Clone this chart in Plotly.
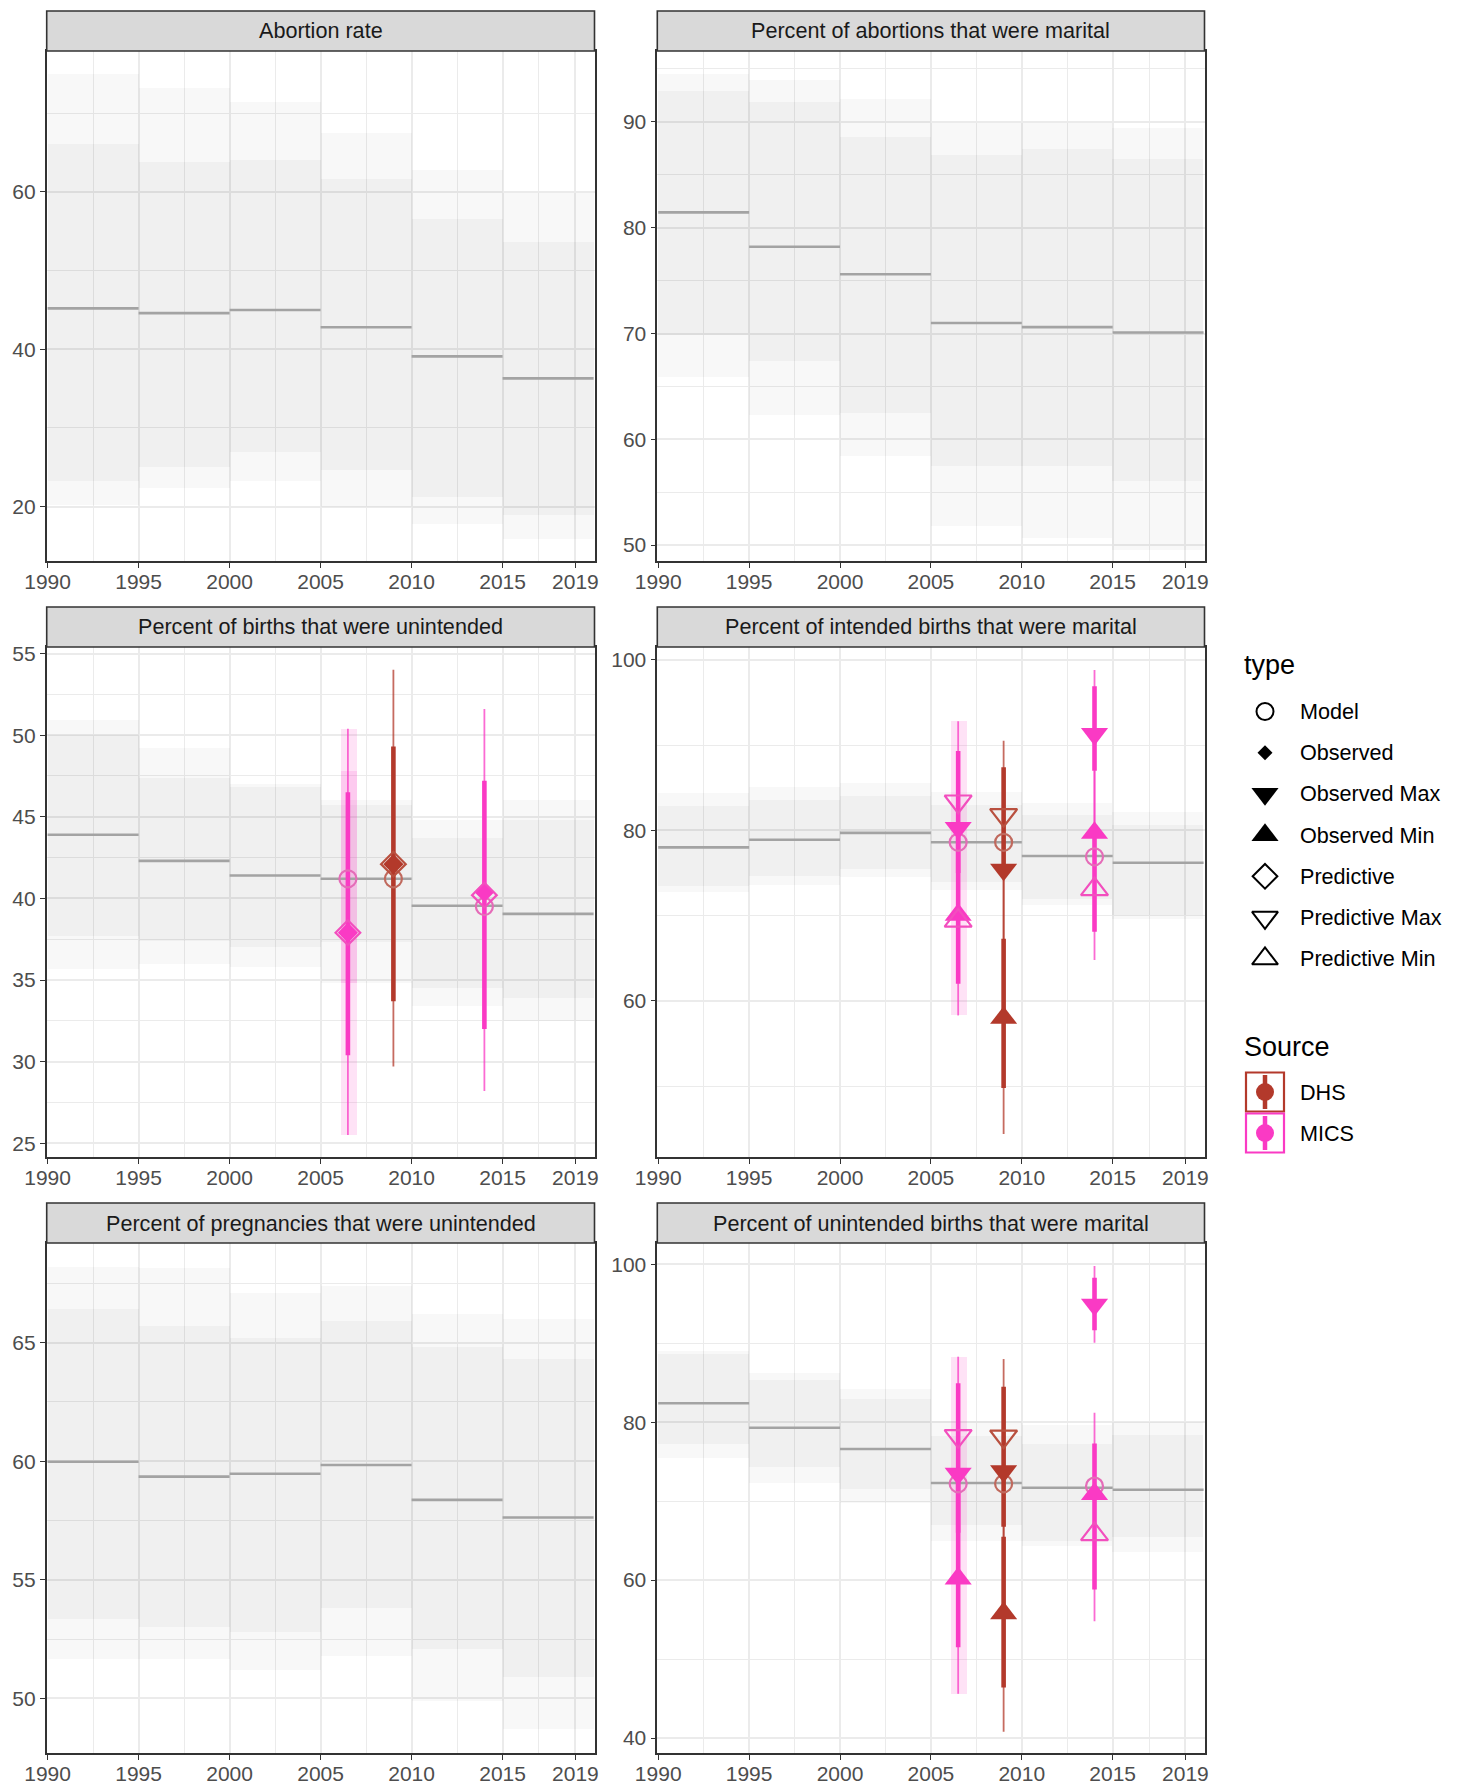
import plotly.graph_objects as go

W, H = 1457, 1789          # window size
OFF = 8                    # page body margin
FW, FH = W - 2 * OFF, H - OFF

# ---------------- data ----------------
period_start = [1990, 1995, 2000, 2005, 2010, 2015]
period_end = [1995, 2000, 2005, 2010, 2015, 2020]

panel_titles = [
    "Abortion rate",
    "Percent of abortions that were marital",
    "Percent of births that were unintended",
    "Percent of intended births that were marital",
    "Percent of pregnancies that were unintended",
    "Percent of unintended births that were marital",
]

x_tick_vals = [1990, 1995, 2000, 2005, 2010, 2015, 2019]
x_minor_vals = [1992.5, 1997.5, 2002.5, 2007.5, 2012.5, 2017]

# Panel 1: Abortion rate
p1_median = [45.2, 44.6, 45.0, 42.8, 39.1, 36.3]
p1_inner_lo = [23.3, 25.0, 26.9, 24.6, 21.2, 19.0]
p1_inner_hi = [66.1, 63.8, 64.1, 61.7, 56.6, 53.6]
p1_outer_lo = [20.2, 22.4, 23.3, 20.0, 17.8, 15.9]
p1_outer_hi = [75.0, 73.2, 71.4, 67.5, 62.8, 59.9]
p1_yticks = [20, 40, 60]
p1_yminor = [30, 50, 70]
p1_yrange = [13.1, 77.9]

# Panel 2: Percent of abortions that were marital
p2_median = [81.45, 78.2, 75.6, 71.0, 70.6, 70.1]
p2_inner_lo = [69.9, 67.4, 62.5, 57.5, 57.5, 56.1]
p2_inner_hi = [92.9, 91.9, 88.6, 86.9, 87.4, 86.5]
p2_outer_lo = [65.9, 62.3, 58.4, 51.8, 50.7, 49.5]
p2_outer_hi = [94.5, 94.0, 92.2, 89.9, 89.9, 89.4]
p2_yticks = [50, 60, 70, 80, 90]
p2_yminor = [55, 65, 75, 85, 95]
p2_yrange = [48.5, 96.7]

# Panel 3: Percent of births that were unintended
p3_median = [43.9, 42.3, 41.4, 41.2, 39.55, 39.05]
p3_inner_lo = [37.7, 37.4, 37.0, 37.3, 34.5, 33.9]
p3_inner_hi = [50.0, 47.4, 46.8, 45.7, 43.7, 44.8]
p3_outer_lo = [35.7, 36.0, 35.8, 34.8, 33.4, 32.5]
p3_outer_hi = [50.9, 49.2, 47.0, 46.0, 44.8, 46.0]
p3_yticks = [25, 30, 35, 40, 45, 50, 55]
p3_yminor = [27.5, 32.5, 37.5, 42.5, 47.5, 52.5]
p3_yrange = [24.16, 55.4]

p3_source = ["MICS", "DHS", "MICS"]
p3_year = [2006.5, 2009.0, 2014.0]
p3_model = [41.2, 41.2, 39.5]
p3_observed = [37.9, 42.1, 40.4]
p3_predictive = [37.9, 42.1, 40.2]
p3_thick_lo = [30.4, 33.7, 32.0]
p3_thick_hi = [46.5, 49.3, 47.2]
p3_thin_lo = [25.5, 29.7, 28.2]
p3_thin_hi = [50.4, 54.0, 51.6]
p3_rect_start = [2006.1]
p3_rect_end = [2007.0]
p3_rect_lo = [25.5]
p3_rect_hi = [50.4]
p3_rect_inner_lo = [34.8]
p3_rect_inner_hi = [47.8]

# Panel 4: Percent of intended births that were marital
p4_median = [78.0, 78.9, 79.7, 78.6, 77.0, 76.2]
p4_inner_lo = [73.5, 74.6, 75.5, 74.0, 72.0, 70.1]
p4_inner_hi = [82.9, 83.6, 84.0, 83.0, 81.8, 80.6]
p4_outer_lo = [72.8, 73.6, 74.5, 73.0, 71.2, 69.6]
p4_outer_hi = [84.4, 85.1, 85.6, 84.5, 83.2, 82.2]
p4_yticks = [60, 80, 100]
p4_yminor = [50, 70, 90]
p4_yrange = [41.7, 101.5]

p4_source = ["MICS", "DHS", "MICS"]
p4_year = [2006.5, 2009.0, 2014.0]
p4_model = [78.6, 78.6, 76.9]
p4_obs_max = [80.3, 75.4, 91.3]
p4_obs_min = [70.1, 58.0, 79.7]
p4_pred_max = [83.4, 81.8, None]
p4_pred_min = [69.4, None, 73.1]
p4_max_thin_lo = [75.0, 67.0, 80.0]
p4_max_thin_hi = [92.8, 90.5, 98.8]
p4_min_thin_lo = [58.3, 44.4, 64.8]
p4_min_thin_hi = [80.0, 75.4, 87.0]
p4_max_thick_lo = [75.0, 75.4, 87.0]
p4_max_thick_hi = [89.3, 87.4, 96.9]
p4_min_thick_lo = [62.0, 49.8, 68.1]
p4_min_thick_hi = [80.0, 67.3, 79.7]
p4_rect_start = [2006.1]
p4_rect_end = [2007.0]
p4_rect_lo = [58.3]
p4_rect_hi = [92.8]

# Panel 5: Percent of pregnancies that were unintended
p5_median = [59.98, 59.35, 59.47, 59.84, 58.37, 57.63]
p5_inner_lo = [53.36, 53.0, 52.8, 53.8, 52.1, 50.9]
p5_inner_hi = [66.4, 65.7, 65.2, 65.9, 64.8, 64.3]
p5_outer_lo = [51.66, 51.66, 51.2, 51.8, 49.9, 48.7]
p5_outer_hi = [68.2, 68.15, 67.1, 67.4, 66.2, 66.0]
p5_yticks = [50, 55, 60, 65]
p5_yminor = [52.5, 57.5, 62.5, 67.5]
p5_yrange = [47.7, 69.2]

# Panel 6: Percent of unintended births that were marital
p6_median = [82.4, 79.3, 76.6, 72.3, 71.7, 71.45]
p6_inner_lo = [77.3, 74.3, 71.6, 67.0, 65.0, 65.4]
p6_inner_hi = [88.6, 85.4, 83.0, 78.2, 77.2, 78.4]
p6_outer_lo = [75.5, 72.3, 69.8, 65.0, 64.3, 63.5]
p6_outer_hi = [89.0, 86.2, 84.2, 80.1, 79.6, 80.0]
p6_yticks = [40, 60, 80, 100]
p6_yminor = [50, 70, 90]
p6_yrange = [38.1, 102.7]

p6_source = ["MICS", "DHS", "MICS"]
p6_year = [2006.5, 2009.0, 2014.0]
p6_model = [72.2, 72.2, 71.9]
p6_obs_max = [73.5, 73.8, 94.9]
p6_obs_min = [60.2, 55.8, 70.9]
p6_pred_max = [78.25, 78.2, None]
p6_pred_min = [None, None, 65.8]
p6_max_thin_lo = [66.0, 60.0, 90.05]
p6_max_thin_hi = [88.3, 88.0, 99.8]
p6_min_thin_lo = [45.6, 40.8, 54.8]
p6_min_thin_hi = [73.5, 73.8, 81.2]
p6_max_thick_lo = [66.0, 66.75, 91.65]
p6_max_thick_hi = [84.95, 84.5, 98.3]
p6_min_thick_lo = [51.5, 46.4, 58.8]
p6_min_thick_hi = [73.5, 65.5, 77.3]
p6_rect_start = [2006.1]
p6_rect_end = [2007.0]
p6_rect_lo = [45.6]
p6_rect_hi = [88.3]

legend_types = ["Model", "Observed", "Observed Max", "Observed Min",
                "Predictive", "Predictive Max", "Predictive Min"]
legend_sources = ["DHS", "MICS"]

# ---------------- styles ----------------
FONT = "Liberation Sans, Arial, Helvetica, sans-serif"
COL = {"DHS": "#b3392b", "MICS": "#fa3ac4"}
COL_THIN = {"DHS": "rgba(179,57,43,0.75)", "MICS": "rgba(250,58,196,0.75)"}
COL_MODEL = {"DHS": "#c0695d", "MICS": "#e56cb8"}
COL_PRED = {"DHS": "#b9503f", "MICS": "#f24fbe"}
BAND_OUTER = "rgba(0,0,0,0.028)"
BAND_INNER = "rgba(0,0,0,0.031)"
MEDIAN_COL = "#a3a3a3"
GRID = "#ebebeb"
BORDER = "#333333"
TICK_FS = 21
STRIP_FS = 21.6
LEG_FS = 21.6
LEG_TITLE_FS = 27
TRI = 23.5

# panel geometry in window pixels
col_x = [(46.7, 594.5), (657.3, 1204.5)]
row_y = [(51, 561), (647, 1157), (1243, 1753)]
strip_h = 40


def px(x):
    return (x - OFF) / FW


def py(y):
    return 1 - (y - OFF) / FH


fig = go.Figure()


def xr(i):
    return "x" if i == 1 else "x%d" % i


def yr(i):
    return "y" if i == 1 else "y%d" % i


def add_bands(i, med, ilo, ihi, olo, ohi):
    centers = [(s + e) / 2 for s, e in zip(period_start, period_end)]
    widths = [e - s for s, e in zip(period_start, period_end)]
    for lo, hi, c in [(olo, ohi, BAND_OUTER), (ilo, ihi, BAND_INNER)]:
        fig.add_trace(go.Bar(x=centers, y=[h - l for l, h in zip(lo, hi)], base=lo,
                             width=widths, marker=dict(color=c, line=dict(width=0)),
                             xaxis=xr(i), yaxis=yr(i), showlegend=False, hoverinfo="skip"))
    xs, ys = [], []
    for s, e, m in zip(period_start, period_end, med):
        xs += [s, e, None]
        ys += [m, m, None]
    fig.add_trace(go.Scatter(x=xs, y=ys, mode="lines", line=dict(color=MEDIAN_COL, width=2.6),
                             xaxis=xr(i), yaxis=yr(i), showlegend=False, hoverinfo="skip"))


def add_rect(i, start, end, lo, hi, color):
    fig.add_trace(go.Bar(x=[(s + e) / 2 for s, e in zip(start, end)],
                         width=[e - s for s, e in zip(start, end)],
                         y=[h - l for l, h in zip(lo, hi)], base=lo,
                         marker=dict(color=color, line=dict(width=0)),
                         xaxis=xr(i), yaxis=yr(i), showlegend=False, hoverinfo="skip"))


def add_segments(i, src, years, lo, hi, width, colors):
    for s in ["DHS", "MICS"]:
        xs, ys = [], []
        for ss, yy, l, h in zip(src, years, lo, hi):
            if ss == s and l is not None and h is not None:
                xs += [yy, yy, None]
                ys += [l, h, None]
        if xs:
            fig.add_trace(go.Scatter(x=xs, y=ys, mode="lines",
                                     line=dict(color=colors[s], width=width),
                                     xaxis=xr(i), yaxis=yr(i), showlegend=False, hoverinfo="skip"))


def add_markers(i, src, years, vals, symbol, size, colors, open_=False):
    for s in ["DHS", "MICS"]:
        xs = [yy for ss, yy, v in zip(src, years, vals) if ss == s and v is not None]
        ys = [v for ss, yy, v in zip(src, years, vals) if ss == s and v is not None]
        if not xs:
            continue
        if open_:
            mk = dict(symbol=symbol, size=size, color=colors[s], line=dict(color=colors[s], width=2.2))
        else:
            mk = dict(symbol=symbol, size=size, color=colors[s], line=dict(width=0))
        fig.add_trace(go.Scatter(x=xs, y=ys, mode="markers", marker=mk,
                                 xaxis=xr(i), yaxis=yr(i), showlegend=False, hoverinfo="skip"))


# bands for all panels
add_bands(1, p1_median, p1_inner_lo, p1_inner_hi, p1_outer_lo, p1_outer_hi)
add_bands(2, p2_median, p2_inner_lo, p2_inner_hi, p2_outer_lo, p2_outer_hi)
add_bands(3, p3_median, p3_inner_lo, p3_inner_hi, p3_outer_lo, p3_outer_hi)
add_bands(4, p4_median, p4_inner_lo, p4_inner_hi, p4_outer_lo, p4_outer_hi)
add_bands(5, p5_median, p5_inner_lo, p5_inner_hi, p5_outer_lo, p5_outer_hi)
add_bands(6, p6_median, p6_inner_lo, p6_inner_hi, p6_outer_lo, p6_outer_hi)

PINK_OUT = "rgba(250,58,196,0.15)"
PINK_IN = "rgba(250,58,196,0.14)"

# Panel 3 points
add_rect(3, p3_rect_start, p3_rect_end, p3_rect_lo, p3_rect_hi, PINK_OUT)
add_rect(3, p3_rect_start, p3_rect_end, p3_rect_inner_lo, p3_rect_inner_hi, PINK_IN)
add_segments(3, p3_source, p3_year, p3_thin_lo, p3_thin_hi, 1.8, COL_THIN)
add_segments(3, p3_source, p3_year, p3_thick_lo, p3_thick_hi, 4.6, COL)
add_markers(3, p3_source, p3_year, p3_model, "circle-open", 17, COL_MODEL, True)
add_markers(3, p3_source, p3_year, p3_observed, "diamond", 15.5, COL)
add_markers(3, p3_source, p3_year, p3_predictive, "diamond-open", 19, COL_PRED, True)

# Panel 4 points
add_rect(4, p4_rect_start, p4_rect_end, p4_rect_lo, p4_rect_hi, PINK_OUT)
add_segments(4, p4_source, p4_year, p4_max_thin_lo, p4_max_thin_hi, 1.8, COL_THIN)
add_segments(4, p4_source, p4_year, p4_min_thin_lo, p4_min_thin_hi, 1.8, COL_THIN)
add_segments(4, p4_source, p4_year, p4_max_thick_lo, p4_max_thick_hi, 4.6, COL)
add_segments(4, p4_source, p4_year, p4_min_thick_lo, p4_min_thick_hi, 4.6, COL)
add_markers(4, p4_source, p4_year, p4_model, "circle-open", 17, COL_MODEL, True)
add_markers(4, p4_source, p4_year, p4_obs_max, "triangle-down", TRI, COL)
add_markers(4, p4_source, p4_year, p4_obs_min, "triangle-up", TRI, COL)
add_markers(4, p4_source, p4_year, p4_pred_max, "triangle-down-open", TRI, COL_PRED, True)
add_markers(4, p4_source, p4_year, p4_pred_min, "triangle-up-open", TRI, COL_PRED, True)

# Panel 6 points
add_rect(6, p6_rect_start, p6_rect_end, p6_rect_lo, p6_rect_hi, PINK_OUT)
add_segments(6, p6_source, p6_year, p6_max_thin_lo, p6_max_thin_hi, 1.8, COL_THIN)
add_segments(6, p6_source, p6_year, p6_min_thin_lo, p6_min_thin_hi, 1.8, COL_THIN)
add_segments(6, p6_source, p6_year, p6_max_thick_lo, p6_max_thick_hi, 4.6, COL)
add_segments(6, p6_source, p6_year, p6_min_thick_lo, p6_min_thick_hi, 4.6, COL)
add_markers(6, p6_source, p6_year, p6_model, "circle-open", 17, COL_MODEL, True)
add_markers(6, p6_source, p6_year, p6_obs_max, "triangle-down", TRI, COL)
add_markers(6, p6_source, p6_year, p6_obs_min, "triangle-up", TRI, COL)
add_markers(6, p6_source, p6_year, p6_pred_max, "triangle-down-open", TRI, COL_PRED, True)
add_markers(6, p6_source, p6_year, p6_pred_min, "triangle-up-open", TRI, COL_PRED, True)

# ---------------- axes ----------------
yconf = [
    (p1_yticks, p1_yminor, p1_yrange),
    (p2_yticks, p2_yminor, p2_yrange),
    (p3_yticks, p3_yminor, p3_yrange),
    (p4_yticks, p4_yminor, p4_yrange),
    (p5_yticks, p5_yminor, p5_yrange),
    (p6_yticks, p6_yminor, p6_yrange),
]

layout = dict(
    template="none",
    width=FW, height=FH, margin=dict(l=0, r=0, t=0, b=0, pad=0, autoexpand=False),
    paper_bgcolor="white", plot_bgcolor="rgba(0,0,0,0)",
    barmode="overlay", bargap=0, showlegend=False,
    font=dict(family=FONT, size=20, color="#4d4d4d"),
)

shapes = []
annotations = []
for k in range(6):
    i = k + 1
    r, c = divmod(k, 2)
    x0, x1 = col_x[c]
    y0, y1 = row_y[r]
    ticks, minor, rng = yconf[k]
    xname = "xaxis" if i == 1 else "xaxis%d" % i
    yname = "yaxis" if i == 1 else "yaxis%d" % i
    layout[xname] = dict(
        domain=[px(x0), px(x1)], anchor=yr(i), range=[1989.95, 2020.05], automargin=False,
        tickmode="array", tickvals=x_tick_vals, ticktext=[str(v) for v in x_tick_vals],
        ticks="outside", ticklen=5, tickwidth=1.4, tickcolor=BORDER, ticklabelstandoff=-4,
        showline=True, linecolor=BORDER, linewidth=1.6, mirror=True,
        showgrid=True, gridcolor=GRID, gridwidth=1.7, zeroline=False,
        minor=dict(tickvals=x_minor_vals, showgrid=True, gridcolor=GRID, gridwidth=0.9, ticks=""),
        tickfont=dict(family=FONT, size=TICK_FS, color="#4d4d4d"), fixedrange=True,
    )
    layout[yname] = dict(
        domain=[py(y1), py(y0)], anchor=xr(i), range=rng, automargin=False,
        tickmode="array", tickvals=ticks, ticktext=[str(v) for v in ticks],
        ticks="outside", ticklen=5, tickwidth=1.4, tickcolor=BORDER,
        showline=True, linecolor=BORDER, linewidth=1.6, mirror=True,
        showgrid=True, gridcolor=GRID, gridwidth=1.7, zeroline=False,
        minor=dict(tickvals=minor, showgrid=True, gridcolor=GRID, gridwidth=0.9, ticks=""),
        tickfont=dict(family=FONT, size=TICK_FS, color="#4d4d4d"), fixedrange=True,
    )
    # strip
    shapes.append(dict(type="rect", xref="paper", yref="paper",
                       x0=px(x0), x1=px(x1), y0=py(y0), y1=py(y0 - strip_h),
                       fillcolor="#d9d9d9", line=dict(color=BORDER, width=1.6), layer="above"))
    annotations.append(dict(xref="paper", yref="paper", x=px((x0 + x1) / 2),
                            y=py(y0 - strip_h / 2), text=panel_titles[k], showarrow=False,
                            xanchor="center", yanchor="middle",
                            font=dict(family=FONT, size=STRIP_FS, color="#1a1a1a")))

# window-pixel overlay axis for the legend
layout["xaxis7"] = dict(domain=[0, 1], range=[OFF, OFF + FW], visible=False, anchor="y7",
                        fixedrange=True, automargin=False)
layout["yaxis7"] = dict(domain=[0, 1], range=[OFF + FH, OFF], visible=False, anchor="x7",
                        fixedrange=True, automargin=False)

LX_TITLE = 1242
LX_SYM = 1265
LX_TXT = 1298
type_title_y = 665
type_y0 = 711.5
type_step = 41.2
annotations.append(dict(xref="x7", yref="y7", x=LX_TITLE, y=type_title_y, text="type", showarrow=False,
                        xanchor="left", yanchor="middle",
                        font=dict(family=FONT, size=LEG_TITLE_FS, color="black")))
legend_markers = [
    ("circle-open", 17, True),
    ("diamond", 11.5, False),
    ("triangle-down", TRI, False),
    ("triangle-up", TRI, False),
    ("diamond-open", 19, True),
    ("triangle-down-open", TRI - 1, True),
    ("triangle-up-open", TRI - 1, True),
]
for j, (lab, (sym, sz, op)) in enumerate(zip(legend_types, legend_markers)):
    yy = type_y0 + j * type_step
    mk = dict(symbol=sym, size=sz, color="black",
              line=dict(color="black", width=2.0 if op else 0))
    fig.add_trace(go.Scatter(x=[LX_SYM], y=[yy], mode="markers", marker=mk,
                             xaxis="x7", yaxis="y7", showlegend=False, hoverinfo="skip"))
    annotations.append(dict(xref="x7", yref="y7", x=LX_TXT, y=yy, text=lab, showarrow=False,
                            xanchor="left", yanchor="middle",
                            font=dict(family=FONT, size=LEG_FS, color="black")))

src_title_y = 1047
src_y0 = 1092
src_step = 41
annotations.append(dict(xref="x7", yref="y7", x=LX_TITLE, y=src_title_y, text="Source", showarrow=False,
                        xanchor="left", yanchor="middle",
                        font=dict(family=FONT, size=LEG_TITLE_FS, color="black")))
for j, s in enumerate(legend_sources):
    yy = src_y0 + j * src_step
    shapes.append(dict(type="rect", xref="x7", yref="y7", x0=LX_SYM - 19, x1=LX_SYM + 19,
                       y0=yy - 19.5, y1=yy + 19.5, line=dict(color=COL[s], width=2.2),
                       fillcolor="white", layer="below"))
    fig.add_trace(go.Scatter(x=[LX_SYM, LX_SYM], y=[yy - 17, yy + 17], mode="lines",
                             line=dict(color=COL[s], width=4.5),
                             xaxis="x7", yaxis="y7", showlegend=False, hoverinfo="skip"))
    fig.add_trace(go.Scatter(x=[LX_SYM], y=[yy], mode="markers",
                             marker=dict(symbol="circle", size=18, color=COL[s], line=dict(width=0)),
                             xaxis="x7", yaxis="y7", showlegend=False, hoverinfo="skip"))
    annotations.append(dict(xref="x7", yref="y7", x=LX_TXT, y=yy, text=s, showarrow=False,
                            xanchor="left", yanchor="middle",
                            font=dict(family=FONT, size=LEG_FS, color="black")))

layout["shapes"] = shapes
layout["annotations"] = annotations
fig.update_layout(**layout)

fig.write_html("out.html", include_plotlyjs=True, config={"displayModeBar": False})
